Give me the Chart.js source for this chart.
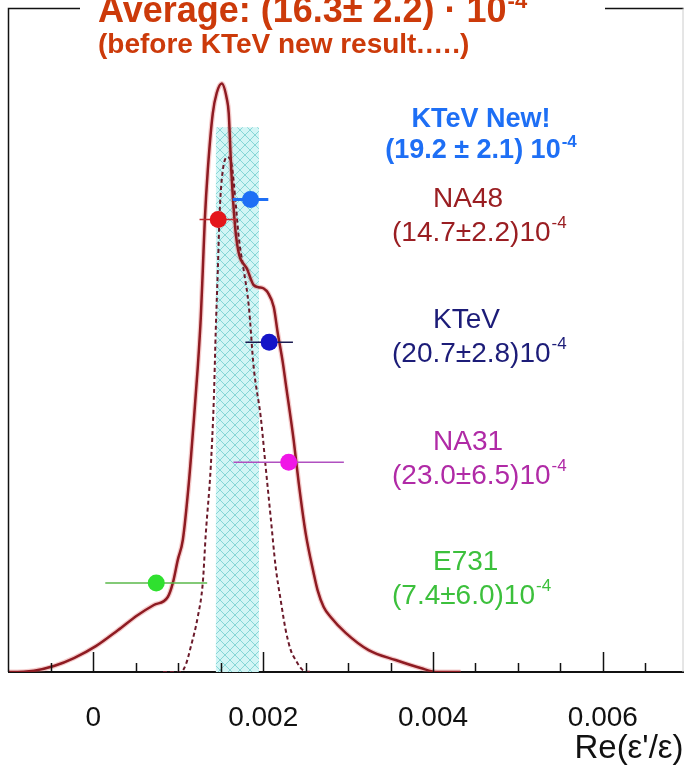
<!DOCTYPE html>
<html>
<head>
<meta charset="utf-8">
<script src="https://cdn.jsdelivr.net/npm/chart.js@4.4.1/dist/chart.umd.min.js"></script>
<style>
  html, body { margin: 0; padding: 0; background: #fff; overflow: hidden; width: 686px; height: 767px; }
</style>
</head>
<body>
<canvas id="chart" width="692" height="767"></canvas>
<script>
// x values are in units of 1e-3 (Re(eps'/eps)), y is arbitrary likelihood height
const solidX = [-1.0, -0.97, -0.70, -0.465, -0.229, 0.029, 0.288, 0.524, 0.712, 0.876, 0.935, 0.994, 1.053,
  1.124, 1.171, 1.229, 1.265, 1.288, 1.312, 1.347, 1.406, 1.453, 1.512, 1.571, 1.594, 1.624, 1.682, 1.818,
  1.888, 1.947, 2.006, 2.053, 2.124, 2.171, 2.230, 2.265, 2.359, 2.418, 2.500, 2.594, 2.641, 2.712, 2.794,
  2.971, 3.241, 3.559, 3.853, 4.053, 4.324];
const solidY = [0, 0, 0.002, 0.009, 0.021, 0.039, 0.063, 0.086, 0.101, 0.113, 0.134, 0.169, 0.199,
  0.285, 0.360, 0.459, 0.535, 0.605, 0.681, 0.756, 0.842, 0.873, 0.887, 0.864, 0.842, 0.756, 0.655, 0.605,
  0.583, 0.580, 0.578, 0.572, 0.550, 0.511, 0.467, 0.435, 0.349, 0.285, 0.209, 0.149, 0.123, 0.098, 0.083,
  0.059, 0.033, 0.018, 0.006, 0, 0];

const dashX = [0.82, 1.029, 1.088, 1.147, 1.229, 1.288, 1.324, 1.382, 1.418, 1.441, 1.465, 1.488, 1.524,
  1.582, 1.629, 1.676, 1.712, 1.771, 1.829, 1.888, 1.971, 2.029, 2.088, 2.147, 2.206, 2.265, 2.324, 2.382,
  2.465, 2.559];
const dashY = [0, 0, 0.011, 0.038, 0.083, 0.134, 0.209, 0.309, 0.410, 0.515, 0.605, 0.696, 0.756,
  0.776, 0.764, 0.706, 0.655, 0.605, 0.553, 0.459, 0.384, 0.309, 0.233, 0.158, 0.108, 0.063, 0.033, 0.018,
  0.003, 0];

// average band (before KTeV new result)
const bandRange = [1.44, 1.95];
const bandTop = 0.821;

const experiments = ["KTeV New!", "NA48", "KTeV", "NA31", "E731"];
const expValue = [1.85, 1.47, 2.07, 2.30, 0.74];
const expErr = [0.21, 0.22, 0.28, 0.65, 0.60];
const expRow = [0.712, 0.682, 0.497, 0.316, 0.134];
const expColor = ["#1e6ff5", "#e4161b", "#1414c8", "#f016e6", "#2fe02f"];
const barColor = ["#1e6ff5", "#c02a30", "#1a1a50", "#b050c0", "#5ab84a"];
const barWidth = [3, 1.5, 1.5, 1.5, 1.5];

const labelName = ["NA48", "KTeV", "NA31", "E731"];
const labelValue = ["(14.7\u00b12.2)10", "(20.7\u00b12.8)10", "(23.0\u00b16.5)10", "(7.4\u00b16.0)10"];
const labelColor = ["#9a1e22", "#1c1c78", "#b02aa6", "#3cc03c"];

const tickValues = [-0.5, 0, 0.5, 1, 1.5, 2, 2.5, 3, 3.5, 4, 4.5, 5, 5.5, 6, 6.5];
const majorTicks = [0, 2, 4, 6];
const majorLabels = ["0", "0.002", "0.004", "0.006"];

const FONT = "'Liberation Sans', Arial, sans-serif";

function hatchPattern() {
  const c = document.createElement("canvas");
  c.width = 10; c.height = 10;
  const g = c.getContext("2d");
  g.fillStyle = "#d2f5f5";
  g.fillRect(0, 0, 10, 10);
  g.strokeStyle = "#86d6d6";
  g.lineWidth = 1;
  g.beginPath();
  g.moveTo(0, 0); g.lineTo(10, 10);
  g.moveTo(10, 0); g.lineTo(0, 10);
  g.stroke();
  return g.createPattern(c, "repeat");
}

function supText(ctx, base, sup, x, y, font, supFont, raise, align) {
  ctx.font = font;
  const w1 = ctx.measureText(base).width;
  ctx.font = supFont;
  const w2 = ctx.measureText(sup).width;
  const x0 = align === "center" ? x - (w1 + w2 + 1) / 2 : x;
  ctx.textAlign = "left";
  ctx.textBaseline = "alphabetic";
  ctx.font = font;
  ctx.fillText(base, x0, y);
  ctx.font = supFont;
  ctx.fillText(sup, x0 + w1 + 1, y - raise);
}

const decorations = {
  id: "decorations",
  afterDraw(chart) {
    const ctx = chart.ctx;
    const area = chart.chartArea;
    const xs = chart.scales.x;
    ctx.save();
    // frame: left, right and broken top line
    ctx.strokeStyle = "#111";
    ctx.lineWidth = 1.5;
    ctx.beginPath();
    ctx.moveTo(area.left, area.bottom);
    ctx.lineTo(area.left, area.top);
    ctx.lineTo(80, area.top);
    ctx.moveTo(605, area.top);
    ctx.lineTo(area.right, area.top);
    ctx.stroke();
    ctx.strokeStyle = "#ccc";
    ctx.lineWidth = 1;
    ctx.beginPath();
    ctx.moveTo(area.right - 0.5, area.top);
    ctx.lineTo(area.right - 0.5, area.bottom);
    ctx.stroke();
    // inward tick marks
    ctx.strokeStyle = "#111";
    ctx.lineWidth = 1.5;
    ctx.beginPath();
    xs.ticks.forEach(t => {
      const px = Math.round(xs.getPixelForValue(t.value)) + 0.5;
      const len = majorTicks.includes(t.value) ? 20 : 9;
      ctx.moveTo(px, area.bottom);
      ctx.lineTo(px, area.bottom - len);
    });
    ctx.stroke();

    // title
    ctx.fillStyle = "#cc3a0a";
    supText(ctx, "Average: (16.3\u00b1 2.2) \u00b7 10", "-4", 98, 22,
      "bold 36px " + FONT, "bold 22px " + FONT, 14, "left");
    ctx.font = "bold 28px " + FONT;
    ctx.fillText("(before KTeV new result.\u2026.)", 98, 53);

    // KTeV new
    ctx.fillStyle = "#1e6ff5";
    ctx.font = "bold 27px " + FONT;
    ctx.textAlign = "center";
    ctx.fillText(experiments[0], 481, 127);
    supText(ctx, "(19.2 \u00b1 2.1) 10", "-4", 481, 158,
      "bold 27px " + FONT, "bold 17px " + FONT, 11, "center");

    // other experiments
    const nameY = [207, 328, 450, 570];
    labelName.forEach((n, i) => {
      ctx.fillStyle = labelColor[i];
      ctx.font = "28px " + FONT;
      ctx.textAlign = "left";
      ctx.fillText(n, 433, nameY[i]);
      supText(ctx, labelValue[i], "-4", 392, nameY[i] + 34,
        "28px " + FONT, "17px " + FONT, 13, "left");
    });
    ctx.restore();
  }
};

const datasets = [];
datasets.push({
  data: bandRange.map(v => ({ x: v, y: bandTop })),
  showLine: true, fill: "origin", backgroundColor: hatchPattern(),
  borderWidth: 0, pointRadius: 0, order: 10
});
// soft halo under the combined curve
datasets.push({
  data: solidX.map((v, i) => ({ x: v, y: solidY[i] })),
  showLine: true, borderColor: "rgba(225,110,110,0.35)", borderWidth: 5, pointRadius: 0,
  cubicInterpolationMode: "monotone", order: 6
});
datasets.push({
  data: solidX.map((v, i) => ({ x: v, y: solidY[i] })),
  showLine: true, borderColor: "#8e1b22", borderWidth: 2.5, pointRadius: 0,
  cubicInterpolationMode: "monotone", order: 5
});
datasets.push({
  data: dashX.map((v, i) => ({ x: v, y: dashY[i] })),
  showLine: true, borderColor: "#6b1a2a", borderWidth: 2, borderDash: [4, 3], pointRadius: 0,
  cubicInterpolationMode: "monotone", order: 5
});
experiments.forEach((name, i) => {
  datasets.push({
    label: name + " error",
    data: [{ x: expValue[i] - expErr[i], y: expRow[i] }, { x: expValue[i] + expErr[i], y: expRow[i] }],
    showLine: true, borderColor: barColor[i], borderWidth: barWidth[i], pointRadius: 0, order: 2
  });
});
datasets.push({
  data: expValue.map((v, i) => ({ x: v, y: expRow[i] })),
  showLine: false, pointRadius: 8.5, pointBackgroundColor: expColor, pointBorderColor: expColor,
  pointBorderWidth: 0, order: 1
});

new Chart(document.getElementById("chart"), {
  type: "scatter",
  data: { datasets: datasets },
  options: {
    responsive: false,
    animation: false,
    layout: { padding: { left: 8, top: 8, right: 2, bottom: 2 } },
    plugins: { legend: { display: false }, tooltip: { enabled: false } },
    scales: {
      x: {
        type: "linear", min: -1, max: 6.95,
        afterBuildTicks: s => { s.ticks = tickValues.map(v => ({ value: v })); },
        afterFit: s => { s.height = 93; },
        ticks: {
          autoSkip: false, maxRotation: 0, padding: 29, color: "#111",
          font: { family: FONT, size: 28 },
          callback: v => { const k = majorTicks.indexOf(v); return k >= 0 ? majorLabels[k] : ""; }
        },
        grid: { display: true, drawOnChartArea: false, drawTicks: false },
        border: { display: true, color: "#111", width: 2 },
        title: {
          display: true, text: "Re(\u03b5'/\u03b5)", align: "end", color: "#111",
          font: { family: FONT, size: 33, lineHeight: 1.0 }, padding: 0
        }
      },
      y: { min: 0, max: 1, display: false }
    }
  },
  plugins: [decorations]
});
</script>
</body>
</html>
